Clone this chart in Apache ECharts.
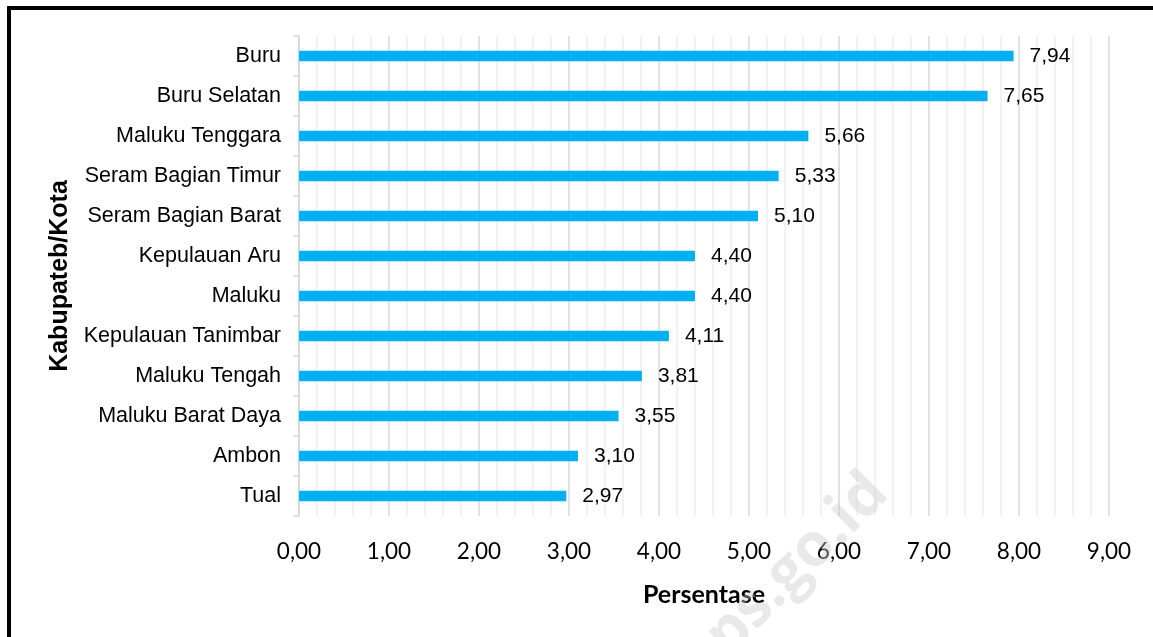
<!DOCTYPE html>
<html>
<head>
<meta charset="utf-8">
<script src="https://cdn.jsdelivr.net/npm/echarts@6/dist/echarts.min.js"></script>
<style>
  html, body { margin: 0; padding: 0; background: #ffffff; }
  #chart { width: 1153px; height: 637px; }
</style>
</head>
<body>
<div id="chart"></div>
<script>
// Regions (kabupaten/kota), ordered top to bottom
const categories = [
  'Buru', 'Buru Selatan', 'Maluku Tenggara', 'Seram Bagian Timur',
  'Seram Bagian Barat', 'Kepulauan Aru', 'Maluku', 'Kepulauan Tanimbar',
  'Maluku Tengah', 'Maluku Barat Daya', 'Ambon', 'Tual'
];
// Percentage per region
const values = [7.94, 7.65, 5.66, 5.33, 5.10, 4.40, 4.40, 4.11, 3.81, 3.55, 3.10, 2.97];
// Axis range
const xMin = 0, xMax = 9, xStep = 1;

const fmt = v => v.toFixed(2).replace('.', ',');

const chart = echarts.init(document.getElementById('chart'), null, { renderer: 'canvas' });

chart.setOption({
  backgroundColor: '#ffffff',
  animation: false,
  grid: { left: 299, right: 44, top: 36, bottom: 121, containLabel: false },
  xAxis: {
    type: 'value',
    min: xMin, max: xMax, interval: xStep,
    name: 'Persentase',
    nameLocation: 'middle',
    nameGap: 66,
    nameTextStyle: { fontFamily: 'Lato', fontWeight: 'bold', fontSize: 25, color: '#000' },
    axisLine: { show: false },
    axisTick: { show: false },
    axisLabel: {
      fontFamily: 'Lato', fontSize: 22.5, color: '#000', margin: 24,
      formatter: v => fmt(v)
    },
    splitLine: { show: true, lineStyle: { color: '#d9d9d9', width: 1.5 } },
    minorTick: { show: false, splitNumber: 5 },
    minorSplitLine: { show: true, lineStyle: { color: '#efefef', width: 1.5 } }
  },
  yAxis: {
    type: 'category',
    data: categories,
    inverse: true,
    name: 'Kabupateb/Kota',
    nameLocation: 'middle',
    nameGap: 224,
    nameRotate: 90,
    nameTextStyle: { fontFamily: 'Liberation Sans', fontWeight: 'bold', fontSize: 25, color: '#000' },
    axisLine: { show: true, lineStyle: { color: '#d9d9d9', width: 1.5 } },
    axisTick: { show: true, length: 6, lineStyle: { color: '#d9d9d9', width: 1.5 } },
    axisLabel: { fontFamily: 'Liberation Sans', fontSize: 21.5, color: '#000', margin: 18 },
    splitLine: { show: false }
  },
  series: [{
    type: 'bar',
    data: values,
    barWidth: 10.5,
    itemStyle: { color: '#00b0f0' },
    label: {
      show: true,
      position: 'right',
      distance: 16,
      fontFamily: 'Liberation Sans',
      fontSize: 21,
      color: '#000',
      formatter: p => fmt(p.value)
    }
  }],
  graphic: [
    // frame edges
    { type: 'rect', left: 7, top: 6, shape: { width: 1146, height: 4 }, style: { fill: '#000' }, silent: true },
    { type: 'rect', left: 7, top: 6, shape: { width: 4, height: 631 }, style: { fill: '#000' }, silent: true },
    // site watermark
    {
      type: 'text',
      x: 784, y: 578,
      rotation: Math.PI / 4,
      style: {
        text: 'bps.go.id',
        fontFamily: 'Open Sans', fontWeight: 'bold', fontSize: 60,
        fill: 'rgba(200,200,200,0.4)',
        textAlign: 'center', textVerticalAlign: 'middle'
      },
      silent: true,
      z: 100
    }
  ]
});
</script>
</body>
</html>
